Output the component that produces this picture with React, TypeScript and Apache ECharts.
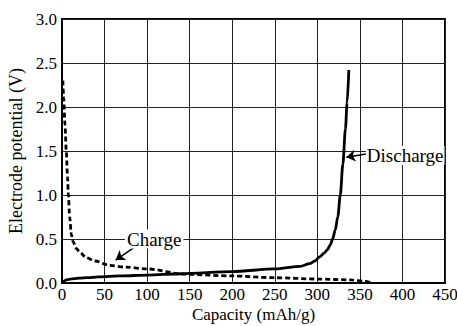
import React, { useEffect, useRef } from "react";
import * as echarts from "echarts";

const xTicks = [0, 50, 100, 150, 200, 250, 300, 350, 400, 450];
const yTicks = [0, 0.5, 1.0, 1.5, 2.0, 2.5, 3.0];

const dischargeX = [0, 2, 5, 10, 20, 30, 43, 70, 100, 140, 200, 250, 280, 291, 297, 303, 308, 312, 315, 318, 321, 324, 327, 330, 333, 335, 337];
const dischargeY = [0, 0.02, 0.035, 0.045, 0.055, 0.06, 0.07, 0.08, 0.09, 0.105, 0.13, 0.16, 0.19, 0.22, 0.25, 0.3, 0.34, 0.38, 0.43, 0.5, 0.6, 0.75, 1.0, 1.35, 1.75, 2.05, 2.42];

const chargeX = [1, 2, 3.5, 5, 6.5, 7.5, 9, 11, 13, 17, 21, 28, 39, 56, 75, 100, 144, 200, 250, 300, 340, 355, 365];
const chargeY = [2.3, 2.1, 1.8, 1.5, 1.2, 1.0, 0.75, 0.55, 0.47, 0.39, 0.35, 0.29, 0.25, 0.2, 0.18, 0.16, 0.1, 0.08, 0.06, 0.045, 0.035, 0.02, 0.0];

const chargeLabel = { text: "Charge", x: 74, y: 0.5 };
const dischargeLabel = { text: "Discharge", x: 357, y: 1.45 };
const chargeArrow = [[84, 0.4], [63, 0.26]];
const dischargeArrow = [[359, 1.47], [334, 1.43]];

const FONT = "Liberation Serif";

export default function App() {
  const ref = useRef<HTMLDivElement>(null);
  useEffect(() => {
    if (!ref.current) return;
    const chart = echarts.init(ref.current, null, { renderer: "svg" });
    const toPairs = (xs: number[], ys: number[]) => xs.map((x, i) => [x, ys[i]]);
    chart.setOption({
      animation: false,
      backgroundColor: "#fff",
      grid: { left: 62, right: 12, top: 19, bottom: 43, show: true, borderColor: "#000", borderWidth: 2, outerBoundsMode: "none", containLabel: false },
      xAxis: {
        type: "value",
        min: 0,
        max: 450,
        interval: 50,
        name: "Capacity (mAh/g)",
        nameLocation: "middle",
        nameGap: 23,
        nameMoveOverlap: false,
        nameTextStyle: { fontFamily: FONT, fontSize: 17, color: "#000" },
        axisLine: { show: true, lineStyle: { color: "#000", width: 2 } },
        axisTick: { show: false },
        axisLabel: { fontFamily: FONT, fontSize: 17, color: "#000", margin: 3, formatter: (v: number) => (xTicks.includes(v) ? String(v) : "") },
        splitLine: { show: true, lineStyle: { color: "#222", width: 1 } },
      },
      yAxis: {
        type: "value",
        min: 0,
        max: 3,
        interval: 0.5,
        name: "Electrode potential (V)",
        nameLocation: "middle",
        nameGap: 37,
        nameMoveOverlap: false,
        nameTextStyle: { fontFamily: FONT, fontSize: 18, color: "#000" },
        axisLine: { show: true, lineStyle: { color: "#000", width: 2 } },
        axisTick: { show: false },
        axisLabel: { fontFamily: FONT, fontSize: 17, color: "#000", margin: 5, formatter: (v: number) => (yTicks.includes(v) ? v.toFixed(1) : "") },
        splitLine: { show: true, lineStyle: { color: "#222", width: 1 } },
      },
      series: [
        {
          type: "line",
          name: "Discharge",
          data: toPairs(dischargeX, dischargeY),
          showSymbol: false,
          smooth: 0.3,
          smoothMonotone: "x",
          lineStyle: { color: "#000", width: 2.8 },
          z: 3,
          markLine: {
            silent: true,
            symbol: ["none", "arrow"],
            symbolSize: 9,
            label: { show: false },
            lineStyle: { color: "#000", width: 1.5, type: "solid" },
            data: [
              [{ coord: chargeArrow[0] }, { coord: chargeArrow[1] }],
              [{ coord: dischargeArrow[0] }, { coord: dischargeArrow[1] }],
            ],
          },
        },
        {
          type: "line",
          name: "Charge",
          data: toPairs(chargeX, chargeY),
          showSymbol: false,
          smooth: 0.3,
          smoothMonotone: "x",
          lineStyle: { color: "#000", width: 2.8, type: [5, 3] },
          z: 3,
        },
      ],
    });
    const cp = chart.convertToPixel({ gridIndex: 0 }, [chargeLabel.x, chargeLabel.y]) as number[];
    const dp = chart.convertToPixel({ gridIndex: 0 }, [dischargeLabel.x, dischargeLabel.y]) as number[];
    chart.setOption({
      graphic: [
        {
          type: "text",
          x: cp[0],
          y: cp[1],
          z: 10,
          style: { text: chargeLabel.text, fontFamily: FONT, fontSize: 19, fill: "#000", backgroundColor: "#fff", padding: [0, 2], verticalAlign: "middle", align: "left" },
        },
        {
          type: "text",
          x: dp[0],
          y: dp[1],
          z: 10,
          style: { text: dischargeLabel.text, fontFamily: FONT, fontSize: 19, fill: "#000", backgroundColor: "#fff", padding: [0, 1], verticalAlign: "middle", align: "left" },
        },
      ],
    });
    return () => chart.dispose();
  }, []);
  return <div ref={ref} style={{ width: 457, height: 326, position: "absolute", left: 0, top: 0 }} />;
}
